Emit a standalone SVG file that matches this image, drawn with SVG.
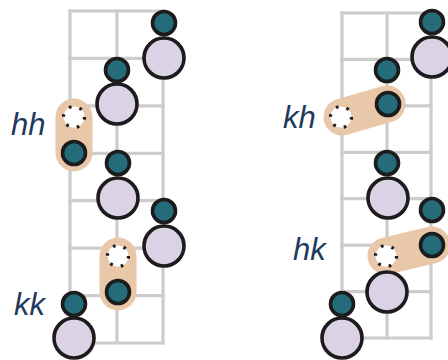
<svg xmlns="http://www.w3.org/2000/svg" width="448" height="360" viewBox="0 0 448 360">
<style>
.grid line{stroke:#cccccc;stroke-width:3.2;stroke-linecap:square}
.pill{stroke:#e9c8aa;stroke-width:37;stroke-linecap:round;fill:none}
.t{fill:#246c79;stroke:#1c1c1c;stroke-width:3.6}
.b{fill:#dbd2e6;stroke:#1c1c1c;stroke-width:3.6}
.d{fill:#ffffff;stroke:#1c1c1c;stroke-width:3.2;stroke-dasharray:2.6 8.4}
.lbl{font-family:"Liberation Sans",Arial,sans-serif;font-style:italic;font-size:31px;fill:#213a5c}
</style>
<g id="grid-left" class="grid">
<line x1="70" y1="11" x2="70" y2="343"/><line x1="117" y1="11" x2="117" y2="343"/><line x1="163" y1="11" x2="163" y2="343"/>
<line x1="70" y1="11" x2="163" y2="11"/><line x1="70" y1="58.4" x2="163" y2="58.4"/><line x1="70" y1="105.9" x2="163" y2="105.9"/><line x1="70" y1="153.3" x2="163" y2="153.3"/><line x1="70" y1="200.7" x2="163" y2="200.7"/><line x1="70" y1="248.1" x2="163" y2="248.1"/><line x1="70" y1="295.6" x2="163" y2="295.6"/><line x1="70" y1="343" x2="163" y2="343"/>
</g>
<g id="grid-right" class="grid">
<line x1="342" y1="13" x2="342" y2="338"/><line x1="387" y1="13" x2="387" y2="338"/><line x1="431" y1="13" x2="431" y2="338"/>
<line x1="342" y1="13" x2="431" y2="13"/><line x1="342" y1="59.4" x2="431" y2="59.4"/><line x1="342" y1="105.9" x2="431" y2="105.9"/><line x1="342" y1="152.3" x2="431" y2="152.3"/><line x1="342" y1="198.7" x2="431" y2="198.7"/><line x1="342" y1="245.1" x2="431" y2="245.1"/><line x1="342" y1="291.6" x2="431" y2="291.6"/><line x1="342" y1="338" x2="431" y2="338"/>
</g>
<g id="connectors">
<line class="pill" x1="74" y1="117" x2="74" y2="153"/>
<line class="pill" x1="118" y1="256" x2="118" y2="292"/>
<line class="pill" x1="342" y1="117" x2="387" y2="104"/>
<line class="pill" x1="386" y1="256" x2="432" y2="245"/>
</g>
<g id="L1"><circle class="t" cx="164" cy="23" r="11.5"/><circle class="b" cx="164" cy="58" r="20"/></g>
<g id="L2"><circle class="t" cx="117" cy="70" r="11.5"/><circle class="b" cx="117" cy="104" r="20"/></g>
<g id="L3"><circle class="d" cx="74" cy="117" r="10.5"/><circle class="t" cx="74" cy="153" r="11.5"/></g>
<g id="L4"><circle class="t" cx="118" cy="163" r="11.5"/><circle class="b" cx="118" cy="198" r="20"/></g>
<g id="L5"><circle class="t" cx="164" cy="211" r="11.5"/><circle class="b" cx="164" cy="246" r="20"/></g>
<g id="L6"><circle class="d" cx="118" cy="256" r="10.5"/><circle class="t" cx="118" cy="292" r="11.5"/></g>
<g id="L7"><circle class="t" cx="74" cy="304" r="11.5"/><circle class="b" cx="74" cy="338" r="20"/></g>
<g id="R1"><circle class="t" cx="432" cy="22" r="11.5"/><circle class="b" cx="432" cy="57" r="20"/></g>
<g id="R2"><circle class="t" cx="387" cy="70" r="11.5"/></g>
<g id="R3"><circle class="d" cx="341" cy="117" r="10.5"/><circle class="t" cx="388" cy="104" r="11.5"/></g>
<g id="R4"><circle class="t" cx="387" cy="163" r="11.5"/><circle class="b" cx="388" cy="198" r="20"/></g>
<g id="R5"><circle class="t" cx="432" cy="210" r="11.5"/></g>
<g id="R6"><circle class="d" cx="386" cy="256" r="10.5"/><circle class="t" cx="432" cy="245" r="11.5"/></g>
<g id="R7"><circle class="b" cx="387" cy="292" r="20"/></g>
<g id="R8"><circle class="t" cx="342" cy="304" r="11.5"/><circle class="b" cx="342" cy="338" r="20"/></g>
<g id="labels">
<text class="lbl" x="11" y="135">hh</text>
<text class="lbl" x="14" y="315">kk</text>
<text class="lbl" x="283" y="128">kh</text>
<text class="lbl" x="293" y="260">hk</text>
</g>
</svg>
